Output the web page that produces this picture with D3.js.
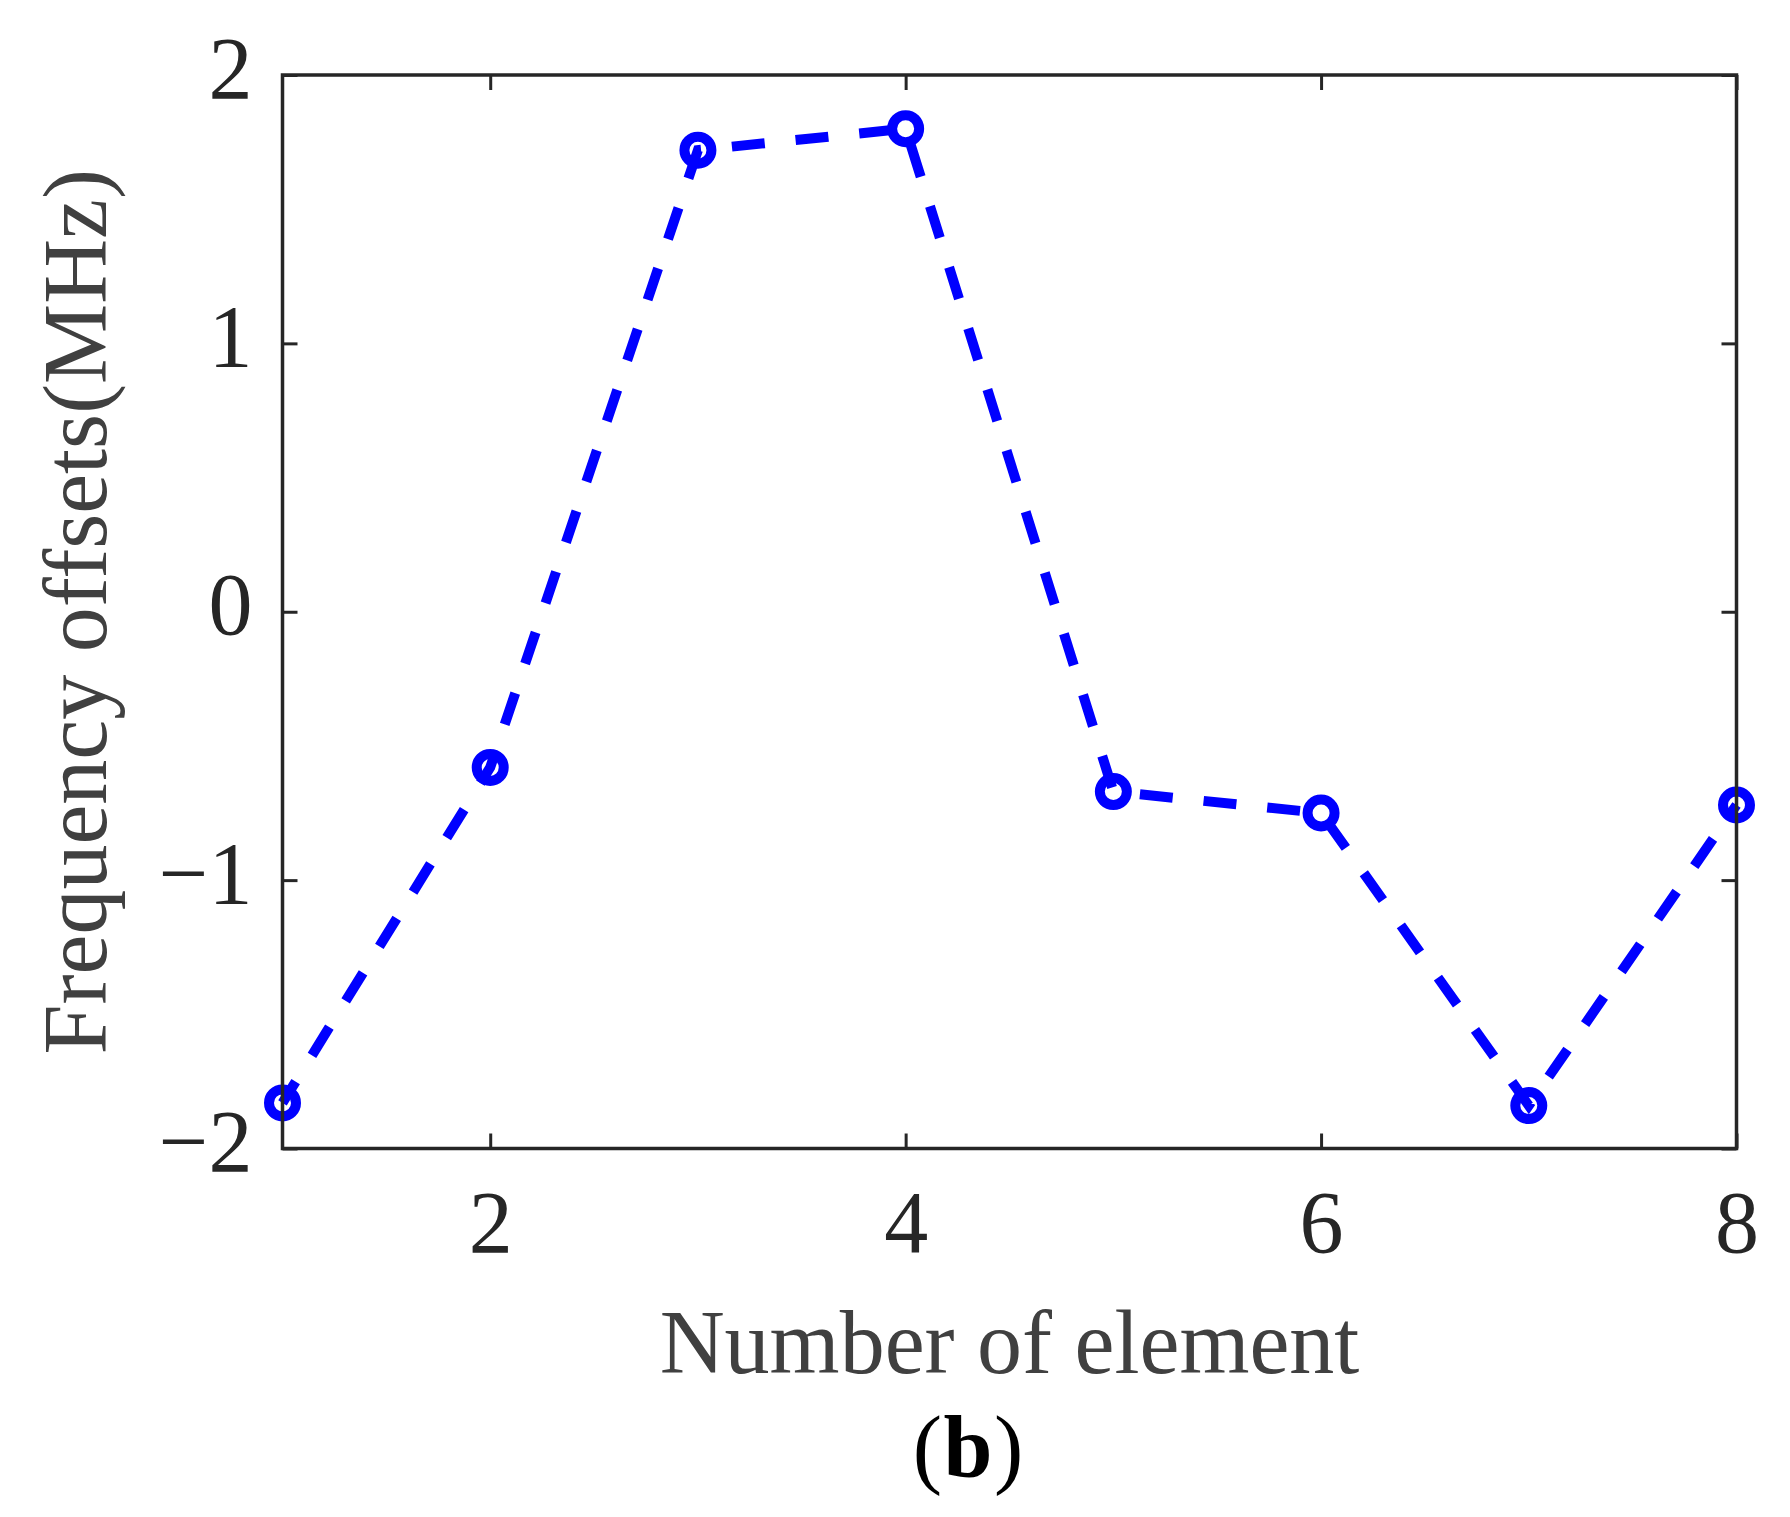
<!DOCTYPE html>
<html>
<head>
<meta charset="utf-8">
<script src="https://cdn.jsdelivr.net/npm/d3@7"></script>
<style>
  body { margin: 0; background: #fff; }
  svg { display: block; }
</style>
</head>
<body>
<div id="content"></div>
<script>
// data
const elements = [1, 2, 3, 4, 5, 6, 7, 8];
const offsets = [-1.83, -0.58, 1.72, 1.80, -0.67, -0.75, -1.84, -0.72];
const xTicks = [2, 4, 6, 8];
const yTicks = [-2, -1, 0, 1, 2];

const w = 1790, h = 1517;
const padL = 282.5, padR = 1736.5, padT = 75, padB = 1148.5;
const axisColor = "#262626";
const font = "'Liberation Serif', 'Times New Roman', serif";

const svg = d3.select("#content").append("svg").attr("width", w).attr("height", h);
svg.append("rect").attr("width", w).attr("height", h).attr("fill", "#fff");

let xScale = d3.scaleLinear().domain([1, 8]).range([padL, padR]);
let yScale = d3.scaleLinear().domain([-2, 2]).range([padB, padT]);

// the data line (dashed) + circle markers
let line = d3.line().x(d => xScale(d[0])).y(d => yScale(d[1]));
let pts = elements.map((e, i) => [e, offsets[i]]);

svg.append("path").datum(pts)
  .attr("d", line)
  .attr("fill", "none")
  .attr("stroke", "#0000ff")
  .attr("stroke-width", 10)
  .attr("stroke-dasharray", "33,31")
  .attr("stroke-dashoffset", 8);

svg.selectAll("circle.dot").data(pts).enter().append("circle")
  .attr("class", "dot")
  .attr("cx", d => xScale(d[0]))
  .attr("cy", d => yScale(d[1]))
  .attr("r", 13.5)
  .attr("fill", "none")
  .attr("stroke", "#0000ff")
  .attr("stroke-width", 10);

// axes, ticks pointing inward (matlab style)
let xAxis = d3.axisBottom(xScale).tickValues(xTicks).tickSizeInner(-15).tickSizeOuter(0).tickFormat(d3.format("d"));
let yAxis = d3.axisLeft(yScale).tickValues(yTicks).tickSizeInner(-15).tickSizeOuter(0)
  .tickFormat(d => d < 0 ? "\u2212" + Math.abs(d) : String(d));
let xTop = d3.axisTop(xScale).tickValues(xTicks).tickSizeInner(-15).tickSizeOuter(0).tickFormat("");
let yRight = d3.axisRight(yScale).tickValues(yTicks).tickSizeInner(-15).tickSizeOuter(0).tickFormat("");

let gx = svg.append("g").attr("id", "x-axis").attr("transform", `translate(0,${padB})`).call(xAxis);
let gy = svg.append("g").attr("id", "y-axis").attr("transform", `translate(${padL},0)`).call(yAxis);
svg.append("g").attr("transform", `translate(0,${padT})`).call(xTop);
svg.append("g").attr("transform", `translate(${padR},0)`).call(yRight);

svg.selectAll(".domain").remove();
svg.selectAll(".tick line").attr("stroke", axisColor).attr("stroke-width", 3);

gx.selectAll("text")
  .attr("y", 103).attr("dy", 0)
  .attr("fill", axisColor)
  .style("font-family", font).style("font-size", "88px");
gy.selectAll("text")
  .attr("x", -30).attr("dy", 22)
  .attr("fill", axisColor)
  .style("font-family", font).style("font-size", "88px");

// box
svg.append("rect")
  .attr("x", padL).attr("y", padT)
  .attr("width", padR - padL).attr("height", padB - padT)
  .attr("fill", "none").attr("stroke", axisColor).attr("stroke-width", 3.5);

// labels
svg.append("text")
  .attr("x", (padL + padR) / 2).attr("y", 1373)
  .attr("text-anchor", "middle")
  .attr("fill", "#404040")
  .style("font-family", font).style("font-size", "90px")
  .text("Number of element");

svg.append("text")
  .attr("transform", `translate(106,${(padT + padB) / 2}) rotate(-90)`)
  .attr("text-anchor", "middle")
  .attr("fill", "#404040")
  .style("font-family", font).style("font-size", "90px")
  .text("Frequency offsets(MHz)");

// caption (b): regular parens, bold letter
const capX = 968, capY = 1477;
svg.append("text").attr("x", capX - 26).attr("y", capY).attr("text-anchor", "end")
  .style("font-family", font).style("font-size", "88px").text("(");
svg.append("text").attr("x", capX).attr("y", capY).attr("text-anchor", "middle")
  .style("font-family", font).style("font-size", "88px").style("font-weight", "bold").text("b");
svg.append("text").attr("x", capX + 26).attr("y", capY).attr("text-anchor", "start")
  .style("font-family", font).style("font-size", "88px").text(")");
</script>
</body>
</html>
